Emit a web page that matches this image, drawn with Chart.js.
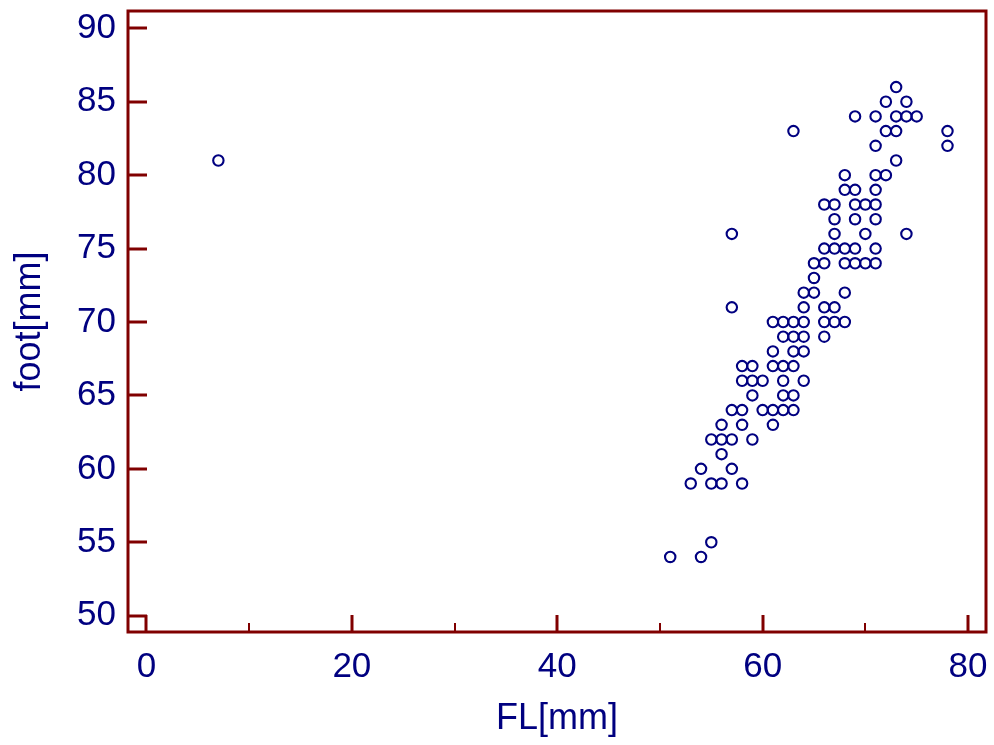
<!DOCTYPE html>
<html>
<head>
<meta charset="utf-8">
<script src="https://cdn.jsdelivr.net/npm/chart.js@4/dist/chart.umd.min.js"></script>
<style>
  html, body { margin: 0; padding: 0; background: #fff; }
  #wrap { width: 994px; height: 745px; }
</style>
</head>
<body>
<div id="wrap"><canvas id="plot" width="994" height="745"></canvas></div>
<script>
// FL[mm] vs foot[mm]
const flValues = [
    7,
    73,
    72, 74,
    69, 71, 73, 74, 75,
    63, 72, 73, 78,
    71, 78,
    73,
    68, 71, 72,
    68, 69, 71,
    66, 67, 69, 70, 71,
    67, 69, 71,
    57, 67, 70, 74,
    66, 67, 68, 69, 71,
    65, 66, 68, 69, 70, 71,
    65,
    64, 65, 68,
    57, 64, 66, 67,
    61, 62, 63, 64, 66, 67, 68,
    62, 63, 64, 66,
    61, 63, 64,
    58, 59, 61, 62, 63,
    58, 59, 60, 62, 64,
    59, 62, 63,
    57, 58, 60, 61, 62, 63,
    56, 58, 61,
    55, 56, 57, 59,
    56,
    54, 57,
    53, 55, 56, 58,
    55,
    51, 54
];
const footValues = [
    81,
    86,
    85, 85,
    84, 84, 84, 84, 84,
    83, 83, 83, 83,
    82, 82,
    81,
    80, 80, 80,
    79, 79, 79,
    78, 78, 78, 78, 78,
    77, 77, 77,
    76, 76, 76, 76,
    75, 75, 75, 75, 75,
    74, 74, 74, 74, 74, 74,
    73,
    72, 72, 72,
    71, 71, 71, 71,
    70, 70, 70, 70, 70, 70, 70,
    69, 69, 69, 69,
    68, 68, 68,
    67, 67, 67, 67, 67,
    66, 66, 66, 66, 66,
    65, 65, 65,
    64, 64, 64, 64, 64, 64,
    63, 63, 63,
    62, 62, 62, 62,
    61,
    60, 60,
    59, 59, 59, 59,
    55,
    54, 54
];

const xTicks = [0, 20, 40, 60, 80];
const xMinorTicks = [10, 30, 50, 70];
const yTicks = [50, 55, 60, 65, 70, 75, 80, 85, 90];

const navy = '#000080';
const frameColor = '#800000';
const fontFamily = '"Liberation Sans", Arial, sans-serif';

// box round the plot, ticks pointing inward
const framePlugin = {
    id: 'frame',
    afterDraw(chart) {
        const { ctx, chartArea: a, scales: { x, y } } = chart;
        ctx.save();
        ctx.strokeStyle = frameColor;
        ctx.lineCap = 'butt';

        const seg = (x1, y1, x2, y2, w) => {
            ctx.lineWidth = w;
            ctx.beginPath();
            ctx.moveTo(x1, y1);
            ctx.lineTo(x2, y2);
            ctx.stroke();
        };

        xTicks.forEach(v => {
            const px = Math.round(x.getPixelForValue(v));
            seg(px, a.bottom, px, a.bottom - 17, 3);
        });
        xMinorTicks.forEach(v => {
            const px = Math.round(x.getPixelForValue(v));
            seg(px, a.bottom, px, a.bottom - 9, 2);
        });
        yTicks.forEach(v => {
            const py = Math.round(y.getPixelForValue(v));
            seg(a.left, py, a.left + 19, py, 3);
        });

        ctx.lineWidth = 3;
        ctx.strokeRect(a.left, a.top, a.right - a.left, a.bottom - a.top);
        ctx.restore();
    }
};

new Chart(document.getElementById('plot'), {
    type: 'scatter',
    data: {
        datasets: [{
            data: flValues.map((v, i) => ({ x: v, y: footValues[i] })),
            borderColor: navy,
            backgroundColor: 'rgba(0,0,0,0)',
            borderWidth: 2.1,
            pointRadius: 5.2,
            pointHoverRadius: 5.2
        }]
    },
    options: {
        responsive: false,
        animation: false,
        layout: { padding: { top: 11, right: 8, left: 0, bottom: 0 } },
        plugins: {
            legend: { display: false },
            tooltip: { enabled: false }
        },
        scales: {
            x: {
                type: 'linear',
                min: -1.8,
                max: 81.75,
                afterBuildTicks: s => { s.ticks = xTicks.map(v => ({ value: v })); },
                afterFit: s => {
                    s.height = 113;
                    s.paddingLeft = 0;
                    s.paddingRight = 0;
                },
                grid: { display: false, drawTicks: false },
                border: { display: false },
                ticks: {
                    color: navy,
                    padding: 14,
                    maxRotation: 0,
                    font: { family: fontFamily, size: 35 }
                },
                title: {
                    display: true,
                    text: 'FL[mm]',
                    color: navy,
                    padding: { top: 0, bottom: 4 },
                    font: { family: fontFamily, size: 36 }
                }
            },
            y: {
                type: 'linear',
                min: 48.89,
                max: 91.18,
                afterBuildTicks: s => { s.ticks = yTicks.map(v => ({ value: v })); },
                afterFit: s => {
                    s.width = 128;
                    s.paddingTop = 0;
                    s.paddingBottom = 0;
                },
                grid: { display: false, drawTicks: false },
                border: { display: false },
                ticks: {
                    color: navy,
                    padding: 12,
                    font: { family: fontFamily, size: 35 }
                },
                title: {
                    display: true,
                    text: 'foot[mm]',
                    color: navy,
                    padding: { top: 8, bottom: 0 },
                    font: { family: fontFamily, size: 36 }
                }
            }
        }
    },
    plugins: [framePlugin]
});
</script>
</body>
</html>
